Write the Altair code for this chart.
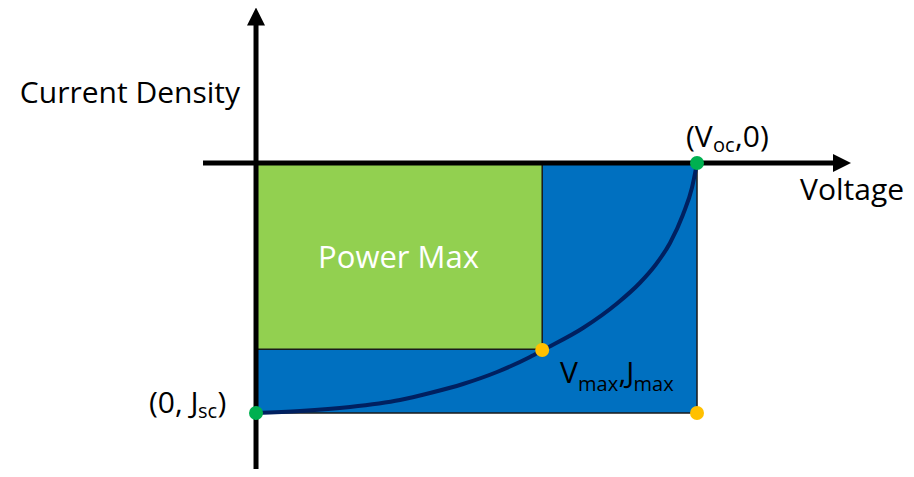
import altair as alt
import pandas as pd

# J-V curve (V relative to Voc, J relative to |Jsc|)
curve_v = [0.0, 0.0998, 0.2132, 0.3265, 0.3946, 0.4694, 0.5465, 0.6213, 0.6508, 0.7415,
           0.8186, 0.8707, 0.9048, 0.9388, 0.9683, 0.9887, 1.0]
curve_j = [-1.0, -0.992, -0.976, -0.948, -0.92, -0.884, -0.836, -0.776, -0.748, -0.66,
           -0.562, -0.479, -0.41, -0.32, -0.206, -0.098, 0.0]

V_OC = 1.0
J_SC = -1.0
V_MAX = 0.649
J_MAX = -0.745

green_pts_v = [0.0, V_OC]
green_pts_j = [J_SC, 0.0]
orange_pts_v = [V_MAX, V_OC]
orange_pts_j = [-0.748, J_SC]

W, H = 898, 461
X_DOM = [-0.5624, 1.4739]
Y_DOM = [-1.224, 0.62]

def dx(p):
    return (p - 256) / 441.0

def dy(p):
    return -(p - 163) / 250.0

xs = alt.Scale(domain=X_DOM, nice=False, zero=False)
ys = alt.Scale(domain=Y_DOM, nice=False, zero=False)

def X(f="x"):
    return alt.X(f"{f}:Q", scale=xs, axis=None)

def Y(f="y"):
    return alt.Y(f"{f}:Q", scale=ys, axis=None)

blue = alt.Chart(pd.DataFrame({"x": [0.0], "x2": [V_OC], "y": [J_SC], "y2": [0.0]})).mark_rect(
    color="#0070C0", stroke="#1a1a1a", strokeWidth=1.5
).encode(x=X(), x2="x2:Q", y=Y(), y2="y2:Q")

green = alt.Chart(pd.DataFrame({"x": [0.0], "x2": [V_MAX], "y": [J_MAX], "y2": [0.0]})).mark_rect(
    color="#92D050", stroke="#1a1a1a", strokeWidth=1.5
).encode(x=X(), x2="x2:Q", y=Y(), y2="y2:Q")

curve = alt.Chart(pd.DataFrame({"x": curve_v, "y": curve_j})).mark_line(
    color="#002060", strokeWidth=4, interpolate="monotone"
).encode(x=X(), y=Y(), order="x:Q")

yaxis = alt.Chart(pd.DataFrame({"x": [0.0], "y": [dy(480)], "y2": [dy(22)]})).mark_rule(
    color="black", strokeWidth=5
).encode(x=X(), y=Y(), y2="y2:Q")

xaxis = alt.Chart(pd.DataFrame({"x": [dx(203)], "x2": [dx(836)], "y": [0.0]})).mark_rule(
    color="black", strokeWidth=5
).encode(x=X(), x2="x2:Q", y=Y())

arrow_up = alt.Chart(pd.DataFrame({"x": [0.0], "y": [dy(16.5)]})).mark_point(
    shape="M-1,1L0,-1L1,1Z", filled=True, color="black", opacity=1, size=324
).encode(x=X(), y=Y())

arrow_right = alt.Chart(pd.DataFrame({"x": [dx(842)], "y": [0.0]})).mark_point(
    shape="M-1,-1L1,0L-1,1Z", filled=True, color="black", opacity=1, size=324
).encode(x=X(), y=Y())

gdots = alt.Chart(pd.DataFrame({"x": green_pts_v, "y": green_pts_j})).mark_circle(
    color="#00B050", opacity=1, size=196
).encode(x=X(), y=Y())

odots = alt.Chart(pd.DataFrame({"x": orange_pts_v, "y": orange_pts_j})).mark_circle(
    color="#FFC000", opacity=1, size=196
).encode(x=X(), y=Y())

FONT = "Open Sans"

def label(text, px, py, size, align="left", color="black"):
    return alt.Chart(pd.DataFrame({"x": [dx(px)], "y": [dy(py)], "t": [text]})).mark_text(
        align=align, baseline="alphabetic", font=FONT, fontSize=size, color=color
    ).encode(x=X(), y=Y(), text="t:N")

labels = [
    label("Current Density", 240, 103, 30, align="right"),
    label("Voltage", 800, 200, 30),
    label("(V", 686, 147, 30), label("oc", 713, 152, 20), label(",0)", 735, 147, 30),
    label("(0, J", 149, 413, 30), label("sc", 198, 418, 20), label(")", 217.5, 413, 30),
    label("V", 560, 383, 30), label("max", 578, 391, 20), label(",J", 618.5, 383, 30), label("max", 633.5, 391, 20),
    label("Power Max", 398.5, 268, 31, align="center", color="white"),
]

chart = alt.layer(
    blue, green, curve, yaxis, xaxis, arrow_up, arrow_right, gdots, odots, *labels
).properties(width=W, height=H, padding=0, autosize=alt.AutoSizeParams(type="none")).configure_view(stroke=None)

chart.save("out.html", embed_options={"renderer": "svg", "actions": False})
